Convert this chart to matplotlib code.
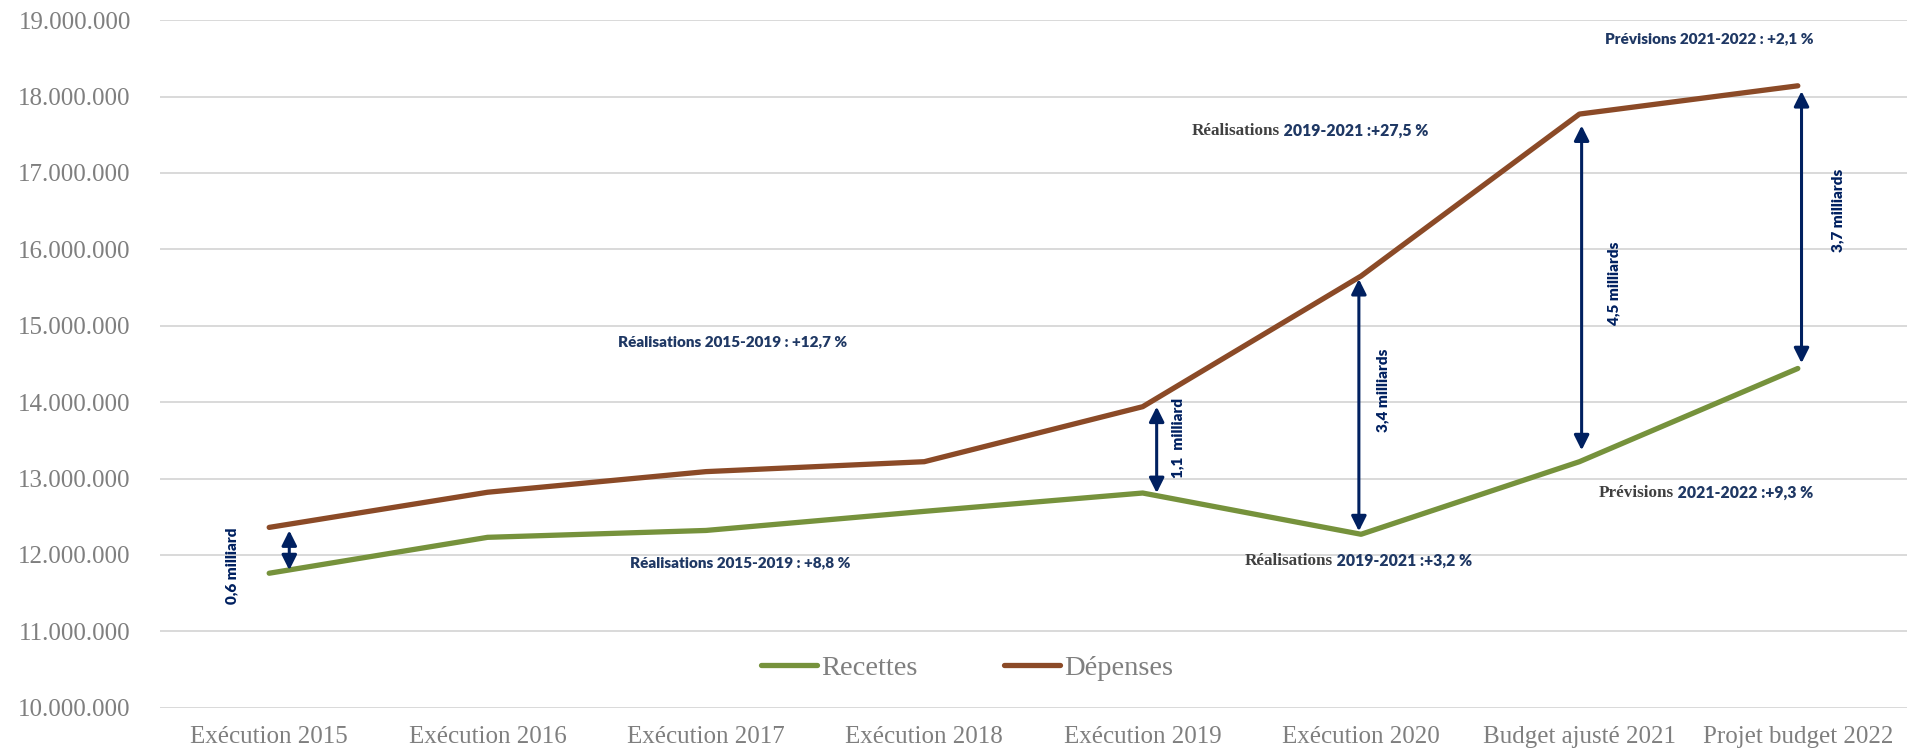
import matplotlib
matplotlib.use("Agg")
import matplotlib.pyplot as plt
from matplotlib.lines import Line2D
from matplotlib.ticker import FuncFormatter

# ---------------- data ----------------
categories = ["Exécution 2015", "Exécution 2016", "Exécution 2017", "Exécution 2018",
              "Exécution 2019", "Exécution 2020", "Budget ajusté 2021", "Projet budget 2022"]
recettes = [11_760_000, 12_230_000, 12_320_000, 12_570_000,
            12_810_000, 12_270_000, 13_220_000, 14_440_000]
depenses = [12_360_000, 12_820_000, 13_090_000, 13_220_000,
            13_940_000, 15_650_000, 17_770_000, 18_140_000]
series_names = ["Recettes", "Dépenses"]
y_ticks = list(range(10_000_000, 19_000_001, 1_000_000))

# gap arrows: category index and label
gap_idx = [0, 4, 5, 6, 7]
gap_labels = ["0,6 milliard", "1,1  milliard", "3,4 milliards", "4,5 milliards", "3,7 milliards"]

# ---------------- style / layout ----------------
GREEN = "#76923C"
BROWN = "#8B4A27"
NAVY = "#002060"
TXT_NAVY = "#1F3864"
GREY_TXT = "#7F7F7F"
DARK_GREY = "#404040"
GRID = "#D9D9D9"

W, H = 1911, 755
fig = plt.figure(figsize=(W / 100, H / 100), dpi=100)
ax = fig.add_axes([160 / W, 1 - 707.7 / H, (1907 - 160) / W, (707.7 - 20.1) / H])

x = list(range(len(categories)))
ax.plot(x, recettes, color=GREEN, lw=3.8, solid_capstyle="round", solid_joinstyle="round", zorder=3)
ax.plot(x, depenses, color=BROWN, lw=3.8, solid_capstyle="round", solid_joinstyle="round", zorder=3)

ax.set_xlim(-0.5, len(categories) - 0.5)
ax.set_ylim(y_ticks[0], y_ticks[-1])
ax.set_yticks(y_ticks)
ax.set_xticks(x)
ax.set_xticklabels(categories)
ax.yaxis.set_major_formatter(FuncFormatter(lambda v, p: f"{int(round(v)):,}".replace(",", ".")))
ax.grid(axis="y", color=GRID, lw=1.4, zorder=0)
ax.set_axisbelow(True)
for s in ax.spines.values():
    s.set_visible(False)
ax.tick_params(axis="both", length=0, colors=GREY_TXT)
ax.tick_params(axis="y", pad=21)
ax.tick_params(axis="x", pad=13)
for lab in ax.get_xticklabels() + ax.get_yticklabels():
    lab.set_fontfamily("Liberation Serif")
    lab.set_fontsize(18)
    lab.set_color(GREY_TXT)

# ---------------- gap arrows ----------------
arrow_dx = [0.092, 0.064, -0.01, 0.01, 0.017]
arrow_pad = [40_000, 0, 40_000, 150_000, 70_000]
label_pos = [(-0.172, 11_860_000), (4.16, 13_530_000), (5.098, 14_150_000),
             (6.158, 15_560_000), (7.183, 16_510_000)]
for k, i in enumerate(gap_idx):
    xa = i + arrow_dx[k]
    ax.annotate("", xy=(xa, depenses[i] - arrow_pad[k]), xytext=(xa, recettes[i] + arrow_pad[k]),
                arrowprops=dict(arrowstyle="<|-|>,head_length=0.9,head_width=0.45",
                                color=NAVY, lw=2.2, shrinkA=0, shrinkB=0),
                zorder=4)
    lx, ly = label_pos[k]
    ax.text(lx, ly, gap_labels[k], rotation=90, ha="center", va="center",
            fontsize=11, fontweight="heavy", family="Lato", color=NAVY)

# ---------------- growth annotations ----------------
def plain(xc, yc, s):
    ax.text(xc, yc, s, ha="center", va="center", fontsize=11, fontweight="heavy",
            family="Lato", color=TXT_NAVY)

def mixed(xl, yc, word, rest):
    t1 = ax.text(xl, yc, word, ha="left", va="center", fontsize=12.3, fontweight="bold",
                 family="Liberation Serif", color=DARK_GREY)
    ax.annotate(" " + rest, xy=(1, 0.5), xycoords=t1, ha="left", va="center",
                fontsize=11.3, fontweight="heavy", family="Lato", color=TXT_NAVY)

plain(2.121, 14_790_000, "Réalisations 2015-2019 : +12,7 %")
plain(2.156, 11_900_000, "Réalisations 2015-2019 : +8,8 %")
mixed(4.468, 11_920_000, "Réalisations", "2019-2021 :+3,2 %")
mixed(4.224, 17_550_000, "Réalisations", "2019-2021 :+27,5 %")
plain(6.593, 18_760_000, "Prévisions 2021-2022 : +2,1 %")
mixed(6.089, 12_810_000, "Prévisions", "2021-2022 :+9,3 %")

# ---------------- legend ----------------
handles = [Line2D([], [], color=GREEN, lw=3.8, solid_capstyle="round"),
           Line2D([], [], color=BROWN, lw=3.8, solid_capstyle="round")]
leg = fig.legend(handles, series_names, loc="center", bbox_to_anchor=(967 / W, 1 - 668 / H),
                 ncol=2, frameon=False, handlelength=1.97, handletextpad=0.15,
                 columnspacing=3.05, prop={"family": "Liberation Serif", "size": 20.5})
for t in leg.get_texts():
    t.set_color(GREY_TXT)

fig.savefig("out.png", dpi=100)
